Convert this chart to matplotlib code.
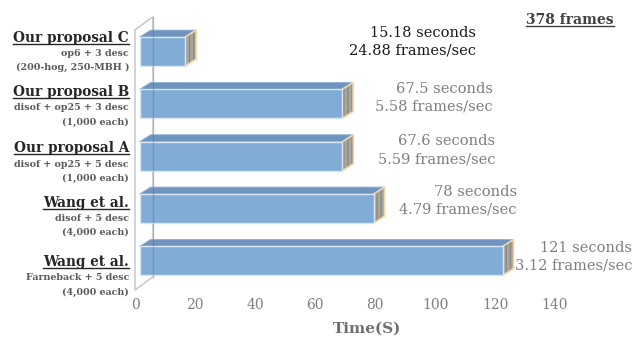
import matplotlib
matplotlib.use("Agg")
import matplotlib.pyplot as plt
from matplotlib.patches import Rectangle, Polygon
from matplotlib.lines import Line2D

# data, top row first
methods  = ["Our proposal C", "Our proposal B", "Our proposal A", "Wang et al.", "Wang et al."]
details  = ["op6 + 3 desc", "disof + op25 + 3 desc", "disof + op25 + 5 desc",
            "disof + 5 desc", "Farneback + 5 desc"]
features = ["(200-hog, 250-MBH )", "(1,000 each)", "(1,000 each)", "(4,000 each)", "(4,000 each)"]
seconds  = [15.18, 67.5, 67.6, 78, 121]
fps      = [24.88, 5.58, 5.59, 4.79, 3.12]
total_frames = 378
xticks = [0, 20, 40, 60, 80, 100, 120, 140]

# layout (pixels / data units), not data
val_label_x  = [113.7, 119.3, 120.0, 127.3, 165.7]   # right edge of value labels
val_label_dy = [-10, -6, -6, -8, -4]                 # px from bar centre (down +)
name_dy      = [-14, -12, -8, -6, 1]                 # px of method title from bar centre
base = 1.5          # front face start
bar_h = 0.555
ddx, ddy = 3.7, 0.134   # bar depth
wdx, wdy = 6.0, 0.25    # wall depth

FONT = "DejaVu Serif"
plt.rcParams["font.family"] = FONT

fig = plt.figure(figsize=(6.44, 3.42), dpi=100)
W, H = 644, 342
ax = fig.add_axes([135 / W, 52 / H, 420 / W, 275 / H])
ax.set_xlim(0, 140)
ax.set_ylim(-0.555, 4.70)
for s in ax.spines.values():
    s.set_visible(False)
ax.set_yticks([])
ax.set_xticks(xticks)
ax.tick_params(axis="x", length=0, pad=6, labelsize=10, labelcolor="#7f7f7f")
ax.set_xlabel("Time(S)", fontsize=11, fontweight="bold", color="#6f6f6f")
ax.xaxis.set_label_coords((367 - 135) / 420, -0.115)

# side wall
wall_bot, wall_top = -0.555, 4.417
ax.add_patch(Polygon([(0, wall_bot), (0, wall_top), (wdx, wall_top + wdy), (wdx, wall_bot + wdy)],
                     closed=True, fill=False, edgecolor="#c4c4c4", lw=1.0, zorder=1, clip_on=False))

n = len(methods)
ypos = [n - 1 - i for i in range(n)]
front_c, top_c, end_c, end_edge = "#80acd6", "#6f94bf", "#aaa59d", "#efd8a8"
for i in range(n):
    y, v = ypos[i], seconds[i]
    yb, yt = y - bar_h / 2, y + bar_h / 2
    x1 = base + v
    ax.add_patch(Polygon([(base, yt), (x1, yt), (x1 + ddx, yt + ddy), (base + ddx, yt + ddy)],
                         closed=True, facecolor=top_c, edgecolor="#8fb2d6", lw=0.6, zorder=3))
    end_pts = [(x1, yb), (x1 + ddx, yb + ddy), (x1 + ddx, yt + ddy), (x1, yt)]
    ax.add_patch(Polygon(end_pts, closed=True, facecolor=end_c, edgecolor="#8d8880",
                         lw=0, zorder=3, hatch="||||"))
    ax.add_patch(Polygon(end_pts, closed=True, fill=False, edgecolor=end_edge, lw=1.2, zorder=3))
    ax.add_patch(Rectangle((base, yb), v, bar_h, facecolor=front_c, edgecolor="#dbe7f3",
                           lw=1.0, zorder=4))

    col = "#1a1a1a" if i == 0 else "#7f7f7f"
    ax.annotate(f"{v:g} seconds\n{fps[i]:.2f} frames/sec", xy=(val_label_x[i], y),
                xytext=(0, -val_label_dy[i]), textcoords="offset pixels",
                ha="right", va="center", fontsize=10.5, color=col, linespacing=1.35,
                annotation_clip=False)

# back edge of the wall seen through the bars
ax.plot([wdx, wdx], [wall_bot + wdy, wall_top + wdy], color="#5a6f88", alpha=0.35, lw=1.0,
        zorder=5, clip_on=False)

underlined = []
for i in range(n):
    y = ypos[i]
    t = ax.annotate(methods[i], xy=(0, y), xytext=(-6, -name_dy[i]), textcoords="offset pixels",
                    ha="right", va="center", fontsize=9.8, fontweight="bold", color="#262626",
                    annotation_clip=False)
    underlined.append(t)
    for k, s in enumerate([details[i], features[i]]):
        ax.annotate(s, xy=(0, y), xytext=(-6, -name_dy[i] - 16 - 14 * k),
                    textcoords="offset pixels", ha="right", va="center", fontsize=6.8,
                    fontweight="bold", color="#5a5a5a", annotation_clip=False)

t = fig.text(570 / W, 1 - 20 / H, f"{total_frames} frames", ha="center", va="center",
             fontsize=10, fontweight="bold", color="#404040")
underlined.append(t)

# underline the bold titles
fig.canvas.draw()
r = fig.canvas.get_renderer()
for t in underlined:
    bb = t.get_window_extent(r)
    fig.add_artist(Line2D([bb.x0 / W, bb.x1 / W], [(bb.y0 + 1) / H] * 2,
                          color=t.get_color(), lw=1.0))

fig.savefig("out.png", dpi=100)
